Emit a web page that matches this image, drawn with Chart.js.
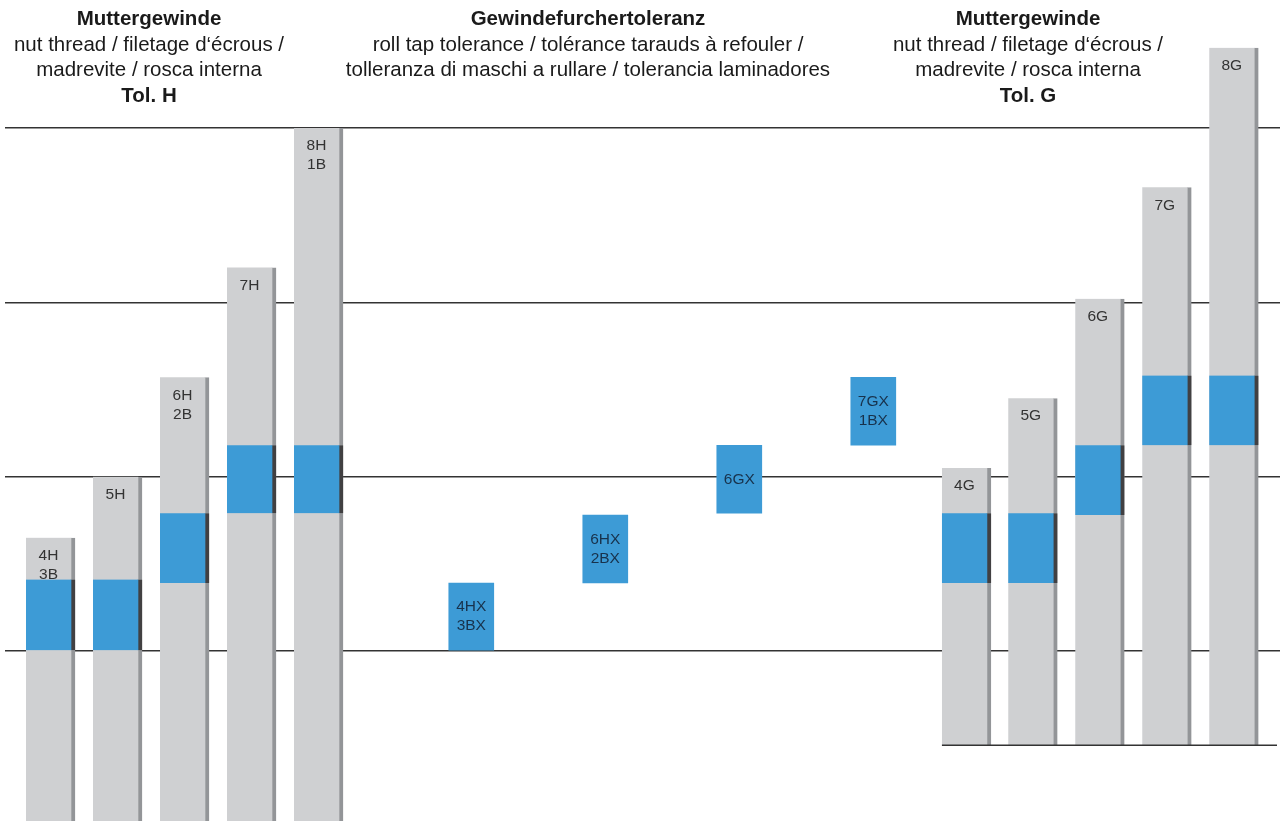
<!DOCTYPE html>
<html>
<head>
<meta charset="utf-8">
<script src="https://cdn.jsdelivr.net/npm/chart.js@4/dist/chart.umd.min.js"></script>
<style>
  body { margin: 0; background: #fff; }
  #wrap { position: relative; width: 1282px; height: 821px; }
  .head {
    position: absolute; top: 5px; width: 600px; white-space: nowrap;
    text-align: center; font: 20.5px "Liberation Sans", Arial, sans-serif;
    line-height: 25.5px; color: #1a1a1a;
  }
  .head b { font-weight: bold; }
</style>
</head>
<body>
<div id="wrap">
  <canvas id="tolChart" width="1282" height="821"></canvas>
  <div class="head" style="left:-151px"><b>Muttergewinde</b><br>nut thread / filetage d‘écrous /<br>madrevite / rosca interna<br><b>Tol. H</b></div>
  <div class="head" style="left:288px"><b>Gewindefurchertoleranz</b><br>roll tap tolerance / tolérance tarauds à refouler /<br>tolleranza di maschi a rullare / tolerancia laminadores</div>
  <div class="head" style="left:728px"><b>Muttergewinde</b><br>nut thread / filetage d‘écrous /<br>madrevite / rosca interna<br><b>Tol. G</b></div>
</div>
<script>
// nut thread, tolerance H
let nutH = ["4H/3B", "5H", "6H/2B", "7H", "8H/1B"]
let nutHPos = [1, 2, 3, 4, 5]
let nutHTop = [65, 100, 157, 220, 300]
let nutHBand = [[0, 41], [0, 41], [39, 79], [79, 118], [79, 118]]
let nutHBase = -100

// roll tap tolerance
let rollTap = ["4HX/3BX", "6HX/2BX", "6GX", "7GX/1BX"]
let rollTapPos = [7.28, 9.28, 11.28, 13.28]
let rollTapBand = [[0, 39], [39, 78], [79, 118], [118, 157]]

// nut thread, tolerance G
let nutG = ["4G", "5G", "6G", "7G", "8G"]
let nutGPos = [14.67, 15.66, 16.66, 17.66, 18.66]
let nutGTop = [105, 145, 202, 266, 346]
let nutGBand = [[39, 79], [39, 79], [78, 118], [118, 158], [118, 158]]
let nutGBase = -54

let gridTicks = [0, 100, 200, 300]

let gray = "#cfd0d2"
let grayEdge = "#939598"
let blue = "#3d9bd6"
let blueEdge = "#414042"

let barLabels = {
    id: "barLabels",
    afterDraw(chart) {
        let ctx = chart.ctx
        ctx.save()
        // base line under the G group
        let gMeta = chart.getDatasetMeta(4).data
        let yb = chart.scales.y.getPixelForValue(nutGBase)
        ctx.strokeStyle = "#333"
        ctx.lineWidth = 1.5
        ctx.beginPath()
        ctx.moveTo(gMeta[0].x - gMeta[0].width / 2, yb)
        ctx.lineTo(chart.chartArea.right - 3, yb)
        ctx.stroke()

        ctx.font = '15.5px "Liberation Sans", Arial, sans-serif'
        ctx.textAlign = "center"
        ctx.textBaseline = "middle"
        chart.data.datasets.forEach((ds, di) => {
            if (!ds.tags) return
            chart.getDatasetMeta(di).data.forEach((bar, i) => {
                let lines = ds.tags[i].split("/")
                // floating bars can swap y and base, so take the upper edge
                let top = Math.min(bar.y, bar.base)
                let start = ds.tagCenter
                    ? (bar.y + bar.base) / 2 - (lines.length - 1) * 9.5
                    : top + 18
                ctx.fillStyle = ds.tagColor
                lines.forEach((t, k) => ctx.fillText(t, bar.x + ds.tagShift, start + k * 19))
            })
        })
        ctx.restore()
    }
}

let canvasElement = document.getElementById("tolChart")
let config = {
    type: "bar",
    data: {
        datasets: [
            {
                label: "H band",
                data: nutHPos.map((x, i) => ({ x: x, y: nutHBand[i] })),
                backgroundColor: blue,
                borderColor: blueEdge,
                borderWidth: { right: 4, left: 0, top: 0, bottom: 0 },
                barThickness: 49,
            },
            {
                label: "roll tap",
                data: rollTapPos.map((x, i) => ({ x: x, y: rollTapBand[i] })),
                backgroundColor: blue,
                borderWidth: 0,
                barThickness: 45,
                tags: rollTap,
                tagCenter: true,
                tagShift: 0,
                tagColor: "#18324c",
            },
            {
                label: "G band",
                data: nutGPos.map((x, i) => ({ x: x, y: nutGBand[i] })),
                backgroundColor: blue,
                borderColor: blueEdge,
                borderWidth: { right: 4, left: 0, top: 0, bottom: 0 },
                barThickness: 49,
            },
            {
                label: "Tol. H",
                data: nutHPos.map((x, i) => ({ x: x, y: [nutHBase, nutHTop[i]] })),
                backgroundColor: gray,
                borderColor: grayEdge,
                borderWidth: { right: 4, left: 0, top: 0, bottom: 0 },
                barThickness: 49,
                tags: nutH,
                tagShift: -2,
                tagColor: "#333",
            },
            {
                label: "Tol. G",
                data: nutGPos.map((x, i) => ({ x: x, y: [nutGBase, nutGTop[i]] })),
                backgroundColor: gray,
                borderColor: grayEdge,
                borderWidth: { right: 4, left: 0, top: 0, bottom: 0 },
                barThickness: 49,
                tags: nutG,
                tagShift: -2,
                tagColor: "#333",
            },
        ],
    },
    options: {
        responsive: false,
        animation: false,
        devicePixelRatio: 1,
        layout: { padding: { left: 5, right: 2, top: 0, bottom: 0 } },
        datasets: { bar: { grouped: false, borderSkipped: false } },
        plugins: { legend: { display: false }, tooltip: { enabled: false } },
        scales: {
            x: { type: "linear", display: false, offset: false, min: 0.321, max: 19.35, grid: { offset: false } },
            y: {
                min: -97.5,
                max: 373.4,
                afterBuildTicks: (axis) => { axis.ticks = gridTicks.map(v => ({ value: v })) },
                ticks: { display: false, padding: 0 },
                border: { display: false },
                grid: { color: "#333", lineWidth: 1.5, drawTicks: false },
            },
        },
    },
    plugins: [barLabels],
}
let tolChart = new Chart(canvasElement, config)
</script>
</body>
</html>
